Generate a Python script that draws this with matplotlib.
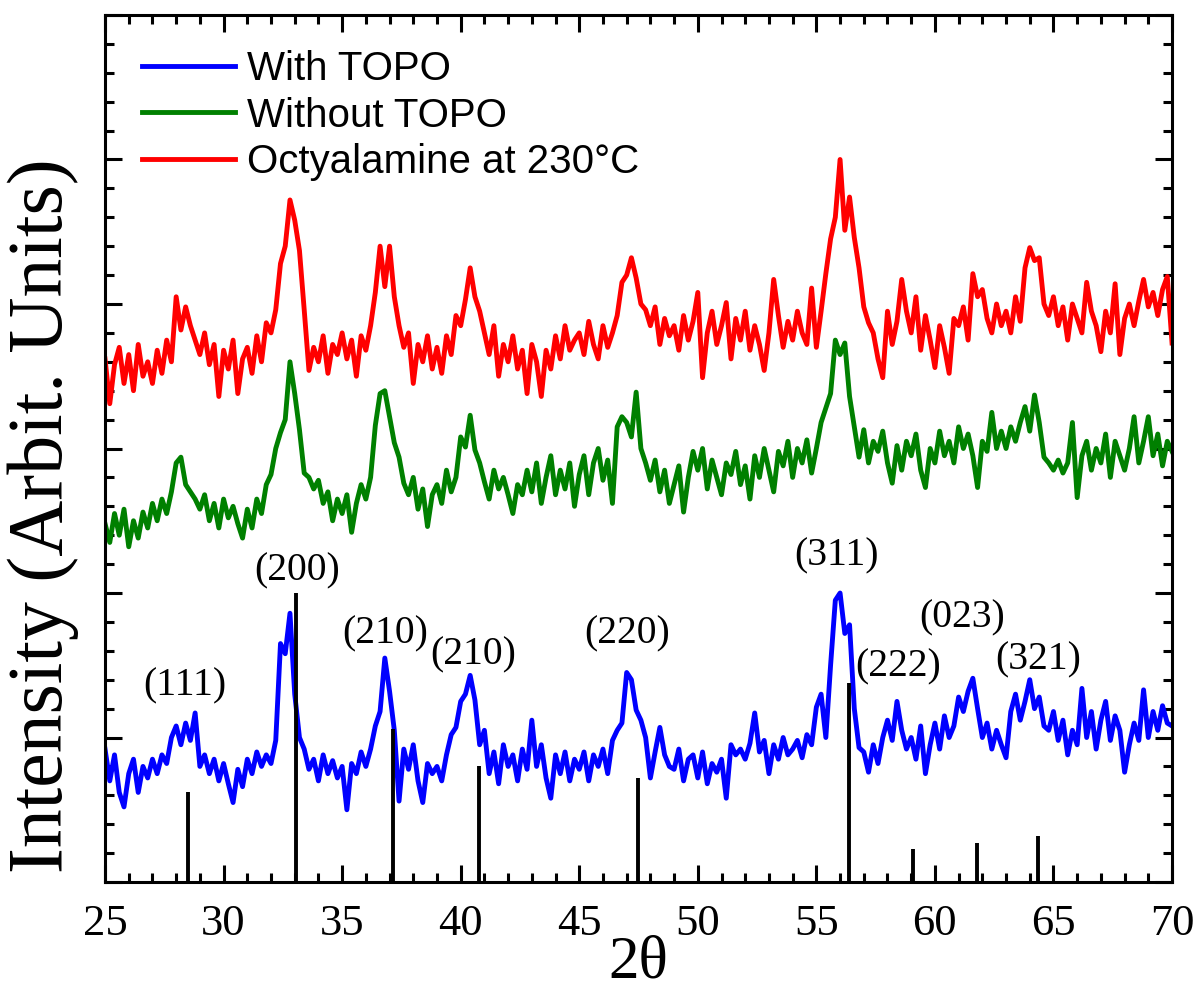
import numpy as np
import matplotlib
matplotlib.use('Agg')
import matplotlib.pyplot as plt
from matplotlib.ticker import MultipleLocator

# 2theta grid, 0.2 deg step (226 points)
two_theta = np.arange(25, 70.001, 0.2)

with_topo = [
    92, 70, 88, 62, 52, 75, 85, 62, 80, 72,
    85, 75, 88, 82, 100, 108, 95, 110, 98, 117,
    80, 88, 75, 85, 70, 82, 68, 55, 78, 66,
    85, 75, 90, 80, 88, 82, 98, 165, 158, 186,
    130, 100, 92, 78, 85, 70, 88, 75, 84, 72,
    80, 50, 82, 75, 90, 80, 92, 108, 118, 155,
    132, 105, 56, 92, 78, 95, 70, 55, 82, 75,
    80, 70, 88, 102, 107, 125, 130, 143, 126, 95,
    105, 75, 90, 68, 95, 80, 88, 70, 92, 78,
    112, 80, 95, 72, 58, 88, 75, 90, 70, 85,
    78, 90, 70, 88, 80, 92, 75, 98, 105, 110,
    145, 140, 119, 112, 100, 72, 90, 107, 88, 80,
    78, 92, 70, 85, 88, 72, 90, 68, 82, 76,
    85, 58, 95, 88, 92, 85, 96, 117, 90, 98,
    75, 95, 85, 100, 88, 92, 98, 86, 102, 95,
    121, 130, 100, 150, 195, 200, 172, 178, 120, 93,
    90, 76, 95, 82, 100, 112, 98, 125, 105, 92,
    100, 85, 108, 75, 95, 110, 92, 115, 100, 108,
    128, 118, 132, 141, 120, 100, 110, 92, 105, 95,
    86, 118, 130, 112, 125, 140, 120, 128, 108, 105,
    118, 98, 112, 88, 105, 95, 134, 100, 118, 92,
    112, 125, 98, 115, 105, 76, 95, 110, 98, 133,
    100, 118, 105, 122, 110, 108,
]

without_topo = [
    248, 235, 255, 240, 258, 232, 250, 238, 256, 245,
    262, 250, 265, 255, 270, 290, 294, 275, 270, 265,
    258, 268, 250, 262, 245, 265, 252, 260, 248, 238,
    258, 245, 265, 255, 275, 282, 300, 311, 320, 360,
    338, 313, 283, 280, 272, 278, 262, 270, 250, 265,
    255, 268, 242, 262, 275, 265, 280, 316, 338, 340,
    322, 304, 294, 276, 268, 280, 258, 272, 246, 268,
    275, 262, 285, 270, 280, 308, 301, 323, 299, 290,
    277, 265, 285, 272, 280, 268, 255, 275, 268, 285,
    270, 290, 262, 280, 295, 268, 285, 272, 290, 260,
    282, 295, 268, 290, 300, 278, 292, 262, 315, 322,
    318, 308, 339, 300, 290, 278, 292, 270, 285, 262,
    275, 288, 256, 280, 298, 285, 300, 272, 292, 280,
    268, 290, 282, 298, 275, 288, 265, 295, 280, 300,
    285, 270, 298, 288, 305, 280, 300, 290, 306, 283,
    300, 318, 328, 338, 375, 365, 373, 336, 315, 294,
    313, 290, 305, 298, 312, 290, 276, 302, 285, 305,
    295, 310, 285, 273, 300, 290, 312, 295, 305, 290,
    315, 300, 310, 295, 273, 305, 298, 325, 300, 312,
    300, 315, 305, 318, 329, 312, 337, 318, 294, 290,
    285, 292, 283, 290, 318, 266, 295, 305, 285, 300,
    290, 310, 280, 305, 295, 285, 300, 322, 290, 305,
    322, 295, 310, 288, 305, 298,
]

octylamine = [
    362, 331, 358, 370, 345, 365, 340, 372, 350, 360,
    345, 368, 352, 375, 360, 405, 382, 398, 385, 375,
    365, 380, 358, 372, 336, 368, 355, 375, 338, 362,
    370, 352, 378, 360, 387, 380, 396, 428, 440, 472,
    458, 437, 396, 354, 370, 360, 378, 352, 372, 365,
    380, 362, 375, 350, 378, 368, 385, 408, 440, 412,
    440, 405, 385, 370, 380, 345, 372, 360, 378, 355,
    370, 352, 378, 365, 392, 385, 403, 425, 405, 395,
    380, 365, 385, 350, 372, 360, 378, 355, 368, 338,
    372, 360, 336, 368, 355, 378, 362, 385, 368, 375,
    380, 365, 388, 372, 362, 385, 370, 380, 392, 415,
    420, 432, 418, 400, 396, 385, 398, 372, 390, 378,
    385, 368, 392, 375, 388, 408, 349, 380, 395, 372,
    385, 401, 362, 390, 375, 395, 368, 385, 372, 354,
    380, 417, 392, 370, 388, 375, 395, 380, 372, 411,
    370, 395, 421, 445, 460, 500, 451, 474, 446, 425,
    398, 387, 380, 362, 349, 395, 372, 388, 417, 395,
    380, 405, 368, 392, 375, 356, 385, 370, 352, 390,
    385, 398, 375, 421, 405, 410, 390, 380, 400, 385,
    395, 380, 405, 388, 425, 439, 430, 432, 400, 392,
    405, 385, 398, 375, 400, 390, 380, 415, 395, 385,
    367, 395, 380, 414, 365, 390, 400, 385, 402, 417,
    398, 408, 392, 410, 419, 373,
]

# reference pattern sticks
ref_pos = [28.5, 33.06, 37.16, 40.77, 47.46, 56.36, 59.07, 61.77, 64.34]
ref_int = [62, 200, 106, 80, 72, 138, 23, 27, 32]

hkl = ['(111)', '(200)', '(210)', '(210)', '(220)', '(311)', '(222)', '(023)', '(321)']

serif = 'Liberation Serif'
sans = 'Liberation Sans'

fig = plt.figure(figsize=(11.99, 9.98), dpi=100)
ax = fig.add_axes([0.0876, 0.1162, 0.8899, 0.8688])

ax.plot(two_theta, with_topo, color='#0000ff', lw=3.5, label='With TOPO')
ax.plot(two_theta, without_topo, color='#008000', lw=3.5, label='Without TOPO')
ax.plot(two_theta, octylamine, color='#ff0000', lw=3.5, label='Octyalamine at 230°C')
ax.vlines(ref_pos, 0, ref_int, color='black', lw=2.8, zorder=5)

hkl_xy = [(28.37, 136), (33.1, 215), (36.8, 172), (40.52, 157), (47.02, 172),
          (55.83, 226), (58.45, 149), (61.15, 183), (64.35, 154)]
for lab, (hx, hy) in zip(hkl, hkl_xy):
    ax.text(hx, hy, lab, ha='center', va='center', fontsize=28.5, family=serif)

ax.set_xlim(25, 70)
ax.set_ylim(0, 600)
ax.xaxis.set_major_locator(MultipleLocator(5))
ax.xaxis.set_minor_locator(MultipleLocator(1))
ax.yaxis.set_major_locator(MultipleLocator(100))
ax.yaxis.set_minor_locator(MultipleLocator(20))
ax.tick_params(which='both', direction='in', top=True, right=True, width=2.2)
ax.tick_params(which='major', length=12)
ax.tick_params(which='minor', length=6.5)
ax.tick_params(axis='x', labelsize=32, pad=16)
ax.set_yticklabels([])
for t in ax.get_xticklabels():
    t.set_family(serif)
for s in ax.spines.values():
    s.set_linewidth(2.2)

ax.set_xlabel('2θ', fontsize=44, family=serif)
ax.xaxis.set_label_coords(0.5, -0.0615)
ax.set_ylabel('Intensity (Arbit. Units)', fontsize=56, family=serif)
ax.yaxis.set_label_coords(-0.024, 0.423)

ax.legend(loc='upper left', bbox_to_anchor=(0.0347, 0.960), frameon=False,
          prop={'family': sans, 'size': 29}, handlelength=2.3, handletextpad=0.3,
          labelspacing=0.22, borderpad=0, borderaxespad=0)

fig.savefig('out.png', dpi=100)
